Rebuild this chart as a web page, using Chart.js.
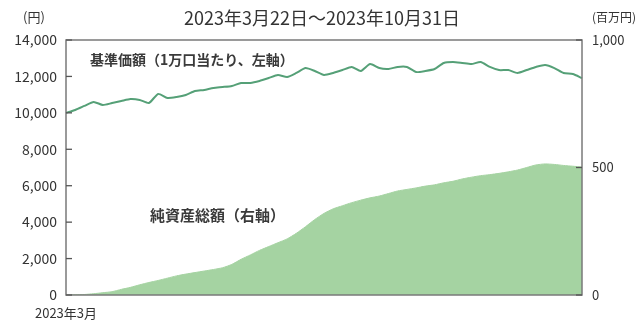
<!DOCTYPE html>
<html>
<head>
<meta charset="utf-8">
<script src="https://cdn.jsdelivr.net/npm/chart.js@4"></script>
<style>
  html, body { margin: 0; padding: 0; background: #fff; }
  #wrap { width: 635px; height: 321px; }
</style>
</head>
<body>
<div id="wrap"><canvas id="canvas"></canvas></div>
<script>
// 日付 (約4日ごと)
const dates = [
    '3/22', '3/26', '3/30', '4/3', '4/7', '4/11', '4/15', '4/19', '4/23', '4/27',
    '5/1', '5/5', '5/9', '5/13', '5/17', '5/21', '5/25', '5/29', '6/2', '6/6',
    '6/10', '6/14', '6/18', '6/22', '6/26', '6/30', '7/4', '7/8', '7/12', '7/16',
    '7/20', '7/24', '7/28', '8/1', '8/5', '8/9', '8/13', '8/17', '8/21', '8/25',
    '8/29', '9/2', '9/6', '9/10', '9/14', '9/18', '9/22', '9/26', '9/30', '10/4',
    '10/8', '10/12', '10/16', '10/20', '10/24', '10/28', '10/31'
];

// 基準価額 (1万口当たり, 円, 左軸)
const kijunKagaku = [
    10000, 10160, 10380, 10600, 10430, 10540, 10650, 10760, 10710, 10540,
    11040, 10820, 10870, 10980, 11200, 11260, 11370, 11420, 11480, 11640,
    11640, 11750, 11910, 12080, 11970, 12190, 12460, 12300, 12080, 12190,
    12350, 12520, 12300, 12680, 12460, 12410, 12520, 12520, 12240, 12300,
    12410, 12740, 12790, 12740, 12680, 12790, 12520, 12350, 12350, 12190,
    12350, 12520, 12630, 12460, 12190, 12130, 11910
];

// 純資産総額 (百万円, 右軸)
const junShisan = [
    0, 1, 2, 5, 9, 13, 22, 30, 40, 49,
    57, 66, 75, 82, 88, 94, 100, 107, 120, 140,
    157, 175, 190, 205, 220, 242, 268, 296, 320, 338,
    350, 362, 372, 381, 388, 398, 408, 414, 420, 427,
    432, 440, 446, 455, 462, 468, 472, 477, 483, 490,
    500, 510, 514, 512, 508, 505, 502
];

const titleText = '2023年3月22日～2023年10月31日';
const firstTickLabel = '2023年3月';
const labelKijun = '基準価額（1万口当たり、左軸）';
const labelJunShisan = '純資産総額（右軸）';

const fontJP = '"Noto Sans CJK JP", "Noto Sans", sans-serif';
const textColor = '#333';

// 枠線・内向きの目盛り・注記テキスト
const decorPlugin = {
    id: 'decor',
    afterDatasetsDraw(chart) {
        const ctx = chart.ctx;
        const area = chart.chartArea;
        ctx.save();
        ctx.strokeStyle = '#7a7a7a';
        ctx.lineWidth = 1.5;
        ctx.strokeRect(area.left, area.top, area.right - area.left, area.bottom - area.top);

        ctx.lineWidth = 1.3;
        ctx.strokeStyle = '#555';
        chart.scales.y.ticks.forEach(t => {
            const y = chart.scales.y.getPixelForValue(t.value);
            ctx.beginPath();
            ctx.moveTo(area.left, y);
            ctx.lineTo(area.left + 6, y);
            ctx.stroke();
        });
        chart.scales.y1.ticks.forEach(t => {
            const y = chart.scales.y1.getPixelForValue(t.value);
            ctx.beginPath();
            ctx.moveTo(area.right, y);
            ctx.lineTo(area.right - 6, y);
            ctx.stroke();
        });

        ctx.fillStyle = textColor;
        ctx.textBaseline = 'middle';
        ctx.font = '18px ' + fontJP;
        ctx.textAlign = 'center';
        ctx.fillText(titleText, 322, 18);

        ctx.font = '13px ' + fontJP;
        ctx.fillText('(円)', 34, 17);
        ctx.textAlign = 'left';
        ctx.font = '12px ' + fontJP;
        ctx.fillText('(百万円)', 592, 17);

        ctx.fillStyle = '#3a3a3a';
        ctx.font = 'bold 14px ' + fontJP;
        ctx.fillText(labelKijun, 90, 60);
        ctx.font = 'bold 15px ' + fontJP;
        ctx.fillText(labelJunShisan, 150, 215);
        ctx.restore();
    }
};

const data = {
    labels: dates,
    datasets: [
        {
            label: '基準価額',
            data: kijunKagaku,
            yAxisID: 'y',
            borderColor: '#55a077',
            borderWidth: 2,
            pointRadius: 0,
            tension: 0.2,
            fill: false,
            order: 0
        },
        {
            label: '純資産総額',
            data: junShisan,
            yAxisID: 'y1',
            borderColor: '#a5d3a2',
            backgroundColor: '#a5d3a2',
            borderWidth: 1,
            pointRadius: 0,
            tension: 0.2,
            fill: 'origin',
            order: 1
        }
    ]
};

const config = {
    type: 'line',
    data: data,
    options: {
        responsive: true,
        maintainAspectRatio: false,
        animation: false,
        layout: { padding: { top: 40, left: 0, right: 0, bottom: 0 } },
        plugins: {
            legend: { display: false },
            tooltip: { enabled: false }
        },
        scales: {
            x: {
                grid: { display: false, drawTicks: false },
                border: { display: false },
                afterFit: function(scale) { scale.height = 26; },
                ticks: {
                    autoSkip: false,
                    maxRotation: 0,
                    padding: 10,
                    color: textColor,
                    font: { family: fontJP, size: 13 },
                    callback: function(value, index) { return index === 0 ? firstTickLabel : ''; }
                }
            },
            y: {
                position: 'left',
                min: 0,
                max: 14000,
                grid: { display: false, drawTicks: false },
                border: { display: false },
                afterFit: function(scale) { scale.width = 66; },
                ticks: {
                    stepSize: 2000,
                    padding: 9,
                    color: textColor,
                    font: { family: fontJP, size: 14 },
                    callback: function(v) { return v.toLocaleString('en-US'); }
                }
            },
            y1: {
                position: 'right',
                min: 0,
                max: 1000,
                grid: { display: false, drawTicks: false },
                border: { display: false },
                afterFit: function(scale) { scale.width = 53; },
                ticks: {
                    stepSize: 500,
                    padding: 10,
                    color: textColor,
                    font: { family: fontJP, size: 13 },
                    callback: function(v) { return v.toLocaleString('en-US'); }
                }
            }
        }
    },
    plugins: [decorPlugin]
};

new Chart(document.getElementById('canvas'), config);
</script>
</body>
</html>
